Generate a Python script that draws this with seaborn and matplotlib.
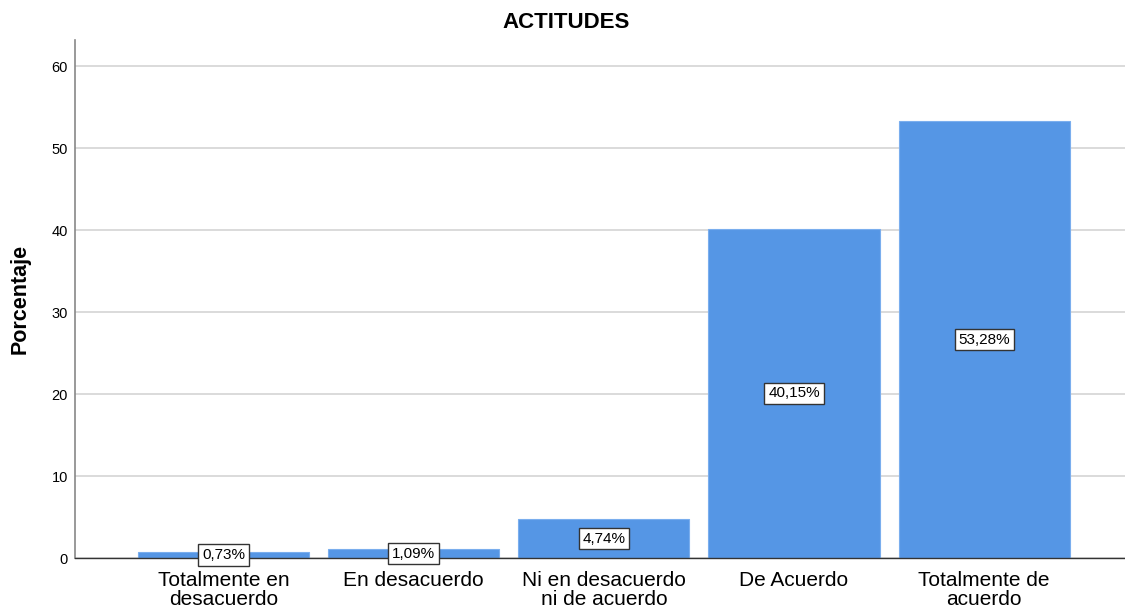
import pandas as pd
import seaborn as sns
import matplotlib
matplotlib.use('Agg')
import matplotlib.pyplot as plt

# Data
categorias = ['Totalmente en\ndesacuerdo', 'En desacuerdo', 'Ni en desacuerdo\nni de acuerdo',
              'De Acuerdo', 'Totalmente de\nacuerdo']
porcentajes = [0.73, 1.09, 4.74, 40.15, 53.28]
etiquetas = ['0,73%', '1,09%', '4,74%', '40,15%', '53,28%']

df = pd.DataFrame({'categoria': categorias, 'porcentaje': porcentajes})

sns.set_style('white')
plt.rcParams['font.family'] = ['Liberation Sans', 'DejaVu Sans']
plt.rcParams['text.color'] = 'black'
plt.rcParams['xtick.color'] = 'black'
plt.rcParams['ytick.color'] = 'black'
plt.rcParams['axes.labelcolor'] = 'black'

fig = plt.figure(figsize=(11.25, 6.14), dpi=100)
ax = fig.add_axes([0.0667, 0.0912, 0.9333, 0.8437])

sns.barplot(data=df, x='categoria', y='porcentaje', color='#5596E5', saturation=1,
            width=0.9, edgecolor='#7AAEEE', linewidth=0.8, ax=ax, zorder=2)

# Value labels in boxes at mid-height of each bar
for i, (v, lab) in enumerate(zip(porcentajes, etiquetas)):
    ax.text(i, v / 2, lab, ha='center', va='center', fontsize=11, zorder=4,
            bbox=dict(boxstyle='square,pad=0.25', facecolor='white', edgecolor='#333333', linewidth=1))

ax.set_ylim(0, 63.2)
ax.set_xlim(-0.78, 4.74)
ax.set_yticks([0, 10, 20, 30, 40, 50, 60])
ax.yaxis.grid(True, color='#d4d4d4', linewidth=1.2, zorder=0)
ax.set_axisbelow(True)

for s in ['top', 'right']:
    ax.spines[s].set_visible(False)
ax.spines['left'].set_color('#888888')
ax.spines['left'].set_linewidth(1.2)
ax.spines['bottom'].set_color('#333333')
ax.spines['bottom'].set_linewidth(1)

ax.tick_params(axis='y', labelsize=10.5, length=0, pad=5)
ax.tick_params(axis='x', labelsize=15, length=0, pad=9)
for t in ax.get_xticklabels():
    t.set_linespacing(1.05)

ax.set_xlabel('')
ax.set_ylabel('Porcentaje', fontsize=15.5, fontweight='bold')
ax.yaxis.set_label_coords(-0.042, 0.5)
fig.text(0.503, 0.964, 'ACTITUDES', fontsize=16, fontweight='bold', ha='center', va='center')

fig.savefig('out.png', dpi=100)
